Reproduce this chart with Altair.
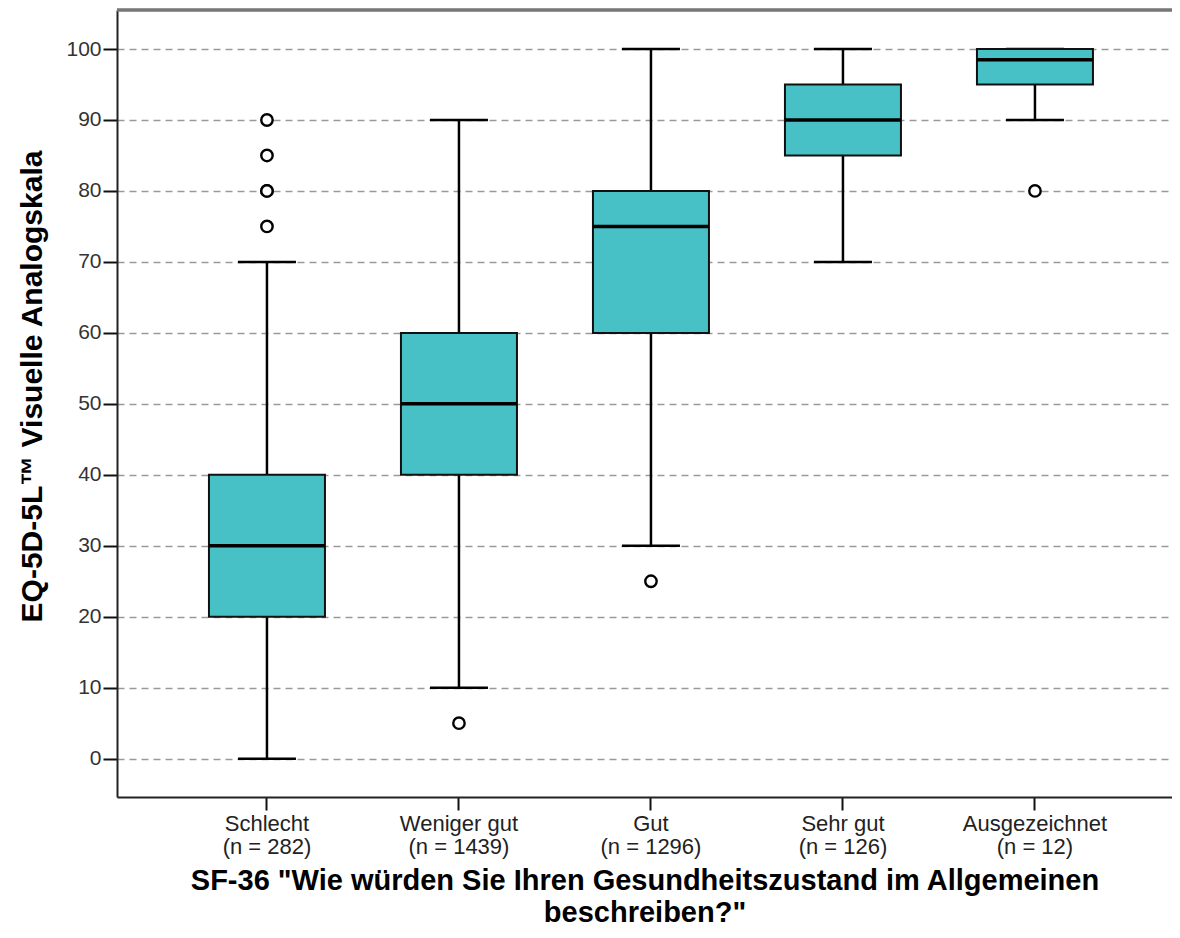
import altair as alt
import pandas as pd

categories = ["Schlecht", "Weniger gut", "Gut", "Sehr gut", "Ausgezeichnet"]
n_counts = [282, 1439, 1296, 126, 12]
whisker_low = [0, 10, 30, 70, 90]
q1 = [20, 40, 60, 85, 95]
median = [30, 50, 75, 90, 98.5]
q3 = [40, 60, 80, 95, 100]
whisker_high = [70, 90, 100, 100, 100]
outlier_cat = ["Schlecht", "Schlecht", "Schlecht", "Schlecht", "Schlecht",
               "Weniger gut", "Gut", "Ausgezeichnet"]
outlier_val = [75, 80, 80, 85, 90, 5, 25, 80]

labels = [f"{c}|(n = {n})" for c, n in zip(categories, n_counts)]
cat_label = dict(zip(categories, labels))

box_df = pd.DataFrame({
    "cat": labels, "lo": whisker_low, "q1": q1, "med": median,
    "q3": q3, "hi": whisker_high,
})
out_df = pd.DataFrame({"cat": [cat_label[c] for c in outlier_cat], "v": outlier_val})

FILL = "#47C1C6"
W, H = 1055, 787
FONT = "Liberation Sans"

xscale = alt.Scale(domain=labels, paddingInner=0, paddingOuter=0.2474, align=0.568)
yscale = alt.Scale(domain=[-5.4, 105.5], nice=False, zero=False)

xenc = alt.X("cat:N", scale=xscale, sort=labels, axis=alt.Axis(
    title=['SF-36 "Wie würden Sie Ihren Gesundheitszustand im Allgemeinen', 'beschreiben?"'],
    labelExpr="split(datum.label, '|')",
    labelAngle=0, labelFont=FONT,
    labelFontSize=22, labelColor="#222", labelPadding=3, labelLineHeight=23,
    tickSize=13, tickColor="#111", tickWidth=2,
    domainColor="#222", domainWidth=2,
    titleFont=FONT, titleFontSize=29, titleFontWeight="bold",
    titleColor="#000", titlePadding=9, titleLineHeight=32,
))
yaxis = alt.Axis(
    title="EQ-5D-5L™ Visuelle Analogskala", values=list(range(0, 101, 10)),
    labelFont=FONT, labelFontSize=21, labelColor="#333", labelPadding=2,
    tickSize=14, tickColor="#111", tickWidth=2,
    domainColor="#222", domainWidth=2,
    grid=True, gridColor="#9a9a9a", gridDash=[7, 5], gridWidth=1.5,
    titleFont=FONT, titleFontSize=30, titleFontWeight="bold",
    titleColor="#000", titlePadding=18, titleY=376,
)

base = alt.Chart(box_df)

grid_layer = base.mark_rule(opacity=0).encode(x=xenc, y=alt.Y("lo:Q", scale=yscale, axis=yaxis))

xs = alt.X("cat:N", sort=labels)
whisk_low = base.mark_rule(color="#000", strokeWidth=2.5).encode(x=xs, y=alt.Y("lo:Q"), y2="q1:Q")
whisk_high = base.mark_rule(color="#000", strokeWidth=2.5).encode(x=xs, y=alt.Y("q3:Q"), y2="hi:Q")
cap_low = base.mark_tick(color="#000", size=58, thickness=2.5, opacity=1).encode(x=xs, y="lo:Q")
cap_high = base.mark_tick(color="#000", size=58, thickness=2.5, opacity=1).encode(x=xs, y="hi:Q")
box = base.mark_bar(fill=FILL, stroke="#111", strokeWidth=2, size=116, opacity=1).encode(
    x=xs, y="q1:Q", y2="q3:Q")
med = base.mark_tick(color="#000", size=116, thickness=3.5, opacity=1).encode(x=xs, y="med:Q")
outl = alt.Chart(out_df).mark_point(shape="circle", size=130, filled=False, opacity=1,
                                    color="#000", strokeWidth=2.4, fill="white", fillOpacity=1).encode(
    x=xs, y="v:Q")

top_line = base.mark_rule(color="#777", strokeWidth=2.5).encode(
    x=alt.value(0), x2=alt.value(W), y=alt.value(0))

chart = alt.layer(grid_layer, whisk_low, whisk_high, cap_low, cap_high, box, med, outl, top_line).properties(
    width=W, height=H,
    autosize=alt.AutoSizeParams(type="none"),
    padding={"left": 109, "top": 2, "right": 0, "bottom": 140},
).configure_view(stroke=None).configure(background="white")

chart.save("out.html", embed_options={"renderer": "svg", "actions": False})
